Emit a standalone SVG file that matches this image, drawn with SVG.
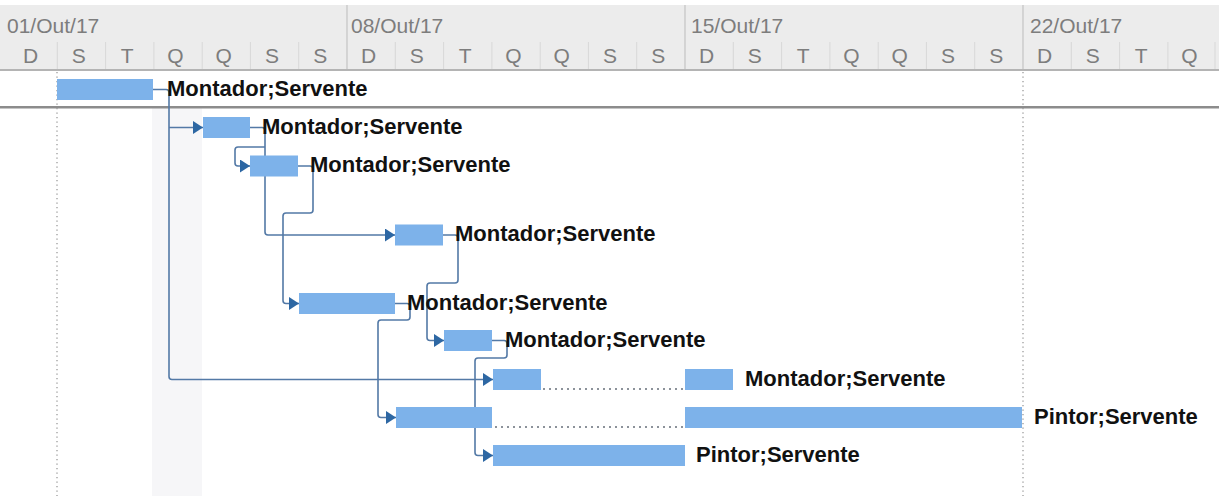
<svg xmlns="http://www.w3.org/2000/svg" width="1219" height="496" viewBox="0 0 1219 496">
<style>
.hdr{font-family:"Liberation Sans",Arial,sans-serif;font-size:21px;fill:#7d7d7d}
.day{text-anchor:middle}
.lbl{font-family:"Liberation Sans",Arial,sans-serif;font-size:22px;font-weight:bold;fill:#111}
.bar{fill:#7db2ea}
.con{fill:none;stroke:#5379a6;stroke-width:1.6;stroke-linejoin:round}
.dsep{stroke:#d8d8d8;stroke-width:1}
.wsep{stroke:#c4c4c4;stroke-width:1.2}
.vdot{stroke:#9a9a9a;stroke-width:1.3;stroke-dasharray:1.3 3.2}
.split{stroke:#8c929a;stroke-width:2;stroke-dasharray:2 4}
</style>
<defs>
<marker id="arr" viewBox="0 0 10 13" refX="10" refY="6.5" markerWidth="10" markerHeight="13" markerUnits="userSpaceOnUse" orient="auto">
<path d="M0,0 L10,6.5 L0,13 z" fill="#2d67a3"/>
</marker>
</defs>
<rect x="0" y="0" width="1219" height="496" fill="#ffffff"/>
<g id="header">
<rect x="0" y="5" width="1219" height="65" fill="#ececec"/>
<g>
<line class="dsep" x1="57.3" y1="42" x2="57.3" y2="70"/>
<line class="dsep" x1="105.6" y1="42" x2="105.6" y2="70"/>
<line class="dsep" x1="153.9" y1="42" x2="153.9" y2="70"/>
<line class="dsep" x1="202.2" y1="42" x2="202.2" y2="70"/>
<line class="dsep" x1="250.4" y1="42" x2="250.4" y2="70"/>
<line class="dsep" x1="298.7" y1="42" x2="298.7" y2="70"/>
<line class="dsep" x1="395.3" y1="42" x2="395.3" y2="70"/>
<line class="dsep" x1="443.6" y1="42" x2="443.6" y2="70"/>
<line class="dsep" x1="491.9" y1="42" x2="491.9" y2="70"/>
<line class="dsep" x1="540.2" y1="42" x2="540.2" y2="70"/>
<line class="dsep" x1="588.4" y1="42" x2="588.4" y2="70"/>
<line class="dsep" x1="636.7" y1="42" x2="636.7" y2="70"/>
<line class="dsep" x1="733.3" y1="42" x2="733.3" y2="70"/>
<line class="dsep" x1="781.6" y1="42" x2="781.6" y2="70"/>
<line class="dsep" x1="829.9" y1="42" x2="829.9" y2="70"/>
<line class="dsep" x1="878.2" y1="42" x2="878.2" y2="70"/>
<line class="dsep" x1="926.4" y1="42" x2="926.4" y2="70"/>
<line class="dsep" x1="974.7" y1="42" x2="974.7" y2="70"/>
<line class="dsep" x1="1071.3" y1="42" x2="1071.3" y2="70"/>
<line class="dsep" x1="1119.6" y1="42" x2="1119.6" y2="70"/>
<line class="dsep" x1="1167.9" y1="42" x2="1167.9" y2="70"/>
<line class="dsep" x1="1215" y1="42" x2="1215" y2="70"/>
<line class="wsep" x1="347" y1="5" x2="347" y2="70"/>
<line class="wsep" x1="685" y1="5" x2="685" y2="70"/>
<line class="wsep" x1="1023" y1="5" x2="1023" y2="70"/>
</g>
<text class="hdr" x="7" y="33">01/Out/17</text>
<text class="hdr" x="351" y="33">08/Out/17</text>
<text class="hdr" x="691" y="33">15/Out/17</text>
<text class="hdr" x="1030" y="33">22/Out/17</text>
<g class="hdr day">
<text x="30.5" y="63">D</text><text x="78.8" y="63">S</text><text x="127.1" y="63">T</text><text x="175.4" y="63">Q</text><text x="223.7" y="63">Q</text><text x="271.9" y="63">S</text><text x="320.2" y="63">S</text>
<text x="368.5" y="63">D</text><text x="416.8" y="63">S</text><text x="465.1" y="63">T</text><text x="513.4" y="63">Q</text><text x="561.7" y="63">Q</text><text x="609.9" y="63">S</text><text x="658.2" y="63">S</text>
<text x="706.5" y="63">D</text><text x="754.8" y="63">S</text><text x="803.1" y="63">T</text><text x="851.4" y="63">Q</text><text x="899.7" y="63">Q</text><text x="947.9" y="63">S</text><text x="996.2" y="63">S</text>
<text x="1044.5" y="63">D</text><text x="1092.8" y="63">S</text><text x="1141.1" y="63">T</text><text x="1189.4" y="63">Q</text>
</g>
<rect x="0" y="69" width="1219" height="2" fill="#b4b4b4"/>
</g>
<rect x="152" y="108" width="50" height="388" fill="#f6f6f8"/>
<rect x="0" y="106" width="1219" height="2.5" fill="#8c8c8c"/>
<line class="vdot" x1="57" y1="72" x2="57" y2="496"/>
<line class="vdot" x1="1023" y1="72" x2="1023" y2="496"/>
<g id="connectors">
<path class="con" d="M153,89.5 H166 Q169,89.5 169,92.5 V376.5 Q169,379.5 172,379.5 H493" marker-end="url(#arr)"/>
<path class="con" d="M169,127.5 H203" marker-end="url(#arr)"/>
<path class="con" d="M250,127.5 H262 Q265,127.5 265,130.5 V232 Q265,235 268,235 H395" marker-end="url(#arr)"/>
<path class="con" d="M265,147 H238 Q235,147 235,150 V163 Q235,166 238,166 H250" marker-end="url(#arr)"/>
<path class="con" d="M298,166 H310 Q313,166 313,169 V210 Q313,213 310,213 H286 Q283,213 283,216 V300.5 Q283,303.5 286,303.5 H299" marker-end="url(#arr)"/>
<path class="con" d="M443,235 H455 Q458,235 458,238 V280 Q458,283 455,283 H430 Q427,283 427,286 V337.5 Q427,340.5 430,340.5 H444" marker-end="url(#arr)"/>
<path class="con" d="M395,303.5 H407 Q410,303.5 410,306.5 V317 Q410,320 407,320 H381 Q378,320 378,323 V414.5 Q378,417.5 381,417.5 H396" marker-end="url(#arr)"/>
<path class="con" d="M492,340.5 H504 Q507,340.5 507,343.5 V355 Q507,358 504,358 H478 Q475,358 475,361 V452.5 Q475,455.5 478,455.5 H493" marker-end="url(#arr)"/>
<line class="split" x1="543" y1="389" x2="684" y2="389"/>
<line class="split" x1="495" y1="427" x2="684" y2="427"/>
</g>
<g id="task1"><rect class="bar" x="57" y="79" width="96" height="21"/><text class="lbl" x="167" y="95.5">Montador;Servente</text></g>
<g id="task2"><rect class="bar" x="203" y="117" width="47" height="21"/><text class="lbl" x="262" y="133.5">Montador;Servente</text></g>
<g id="task3"><rect class="bar" x="250" y="155.5" width="48" height="21"/><text class="lbl" x="310" y="172">Montador;Servente</text></g>
<g id="task4"><rect class="bar" x="395" y="224.5" width="48" height="21"/><text class="lbl" x="455" y="241">Montador;Servente</text></g>
<g id="task5"><rect class="bar" x="299" y="293" width="96" height="21"/><text class="lbl" x="407" y="309.5">Montador;Servente</text></g>
<g id="task6"><rect class="bar" x="444" y="330" width="48" height="21"/><text class="lbl" x="505" y="346.5">Montador;Servente</text></g>
<g id="task7"><rect class="bar" x="493" y="369" width="48" height="21"/><rect class="bar" x="685" y="369" width="48" height="21"/><text class="lbl" x="745" y="385.5">Montador;Servente</text></g>
<g id="task8"><rect class="bar" x="396" y="407" width="96" height="21"/><rect class="bar" x="685" y="407" width="337" height="21"/><text class="lbl" x="1034" y="423.5">Pintor;Servente</text></g>
<g id="task9"><rect class="bar" x="493" y="445" width="192" height="21"/><text class="lbl" x="696" y="461.5">Pintor;Servente</text></g>
</svg>
